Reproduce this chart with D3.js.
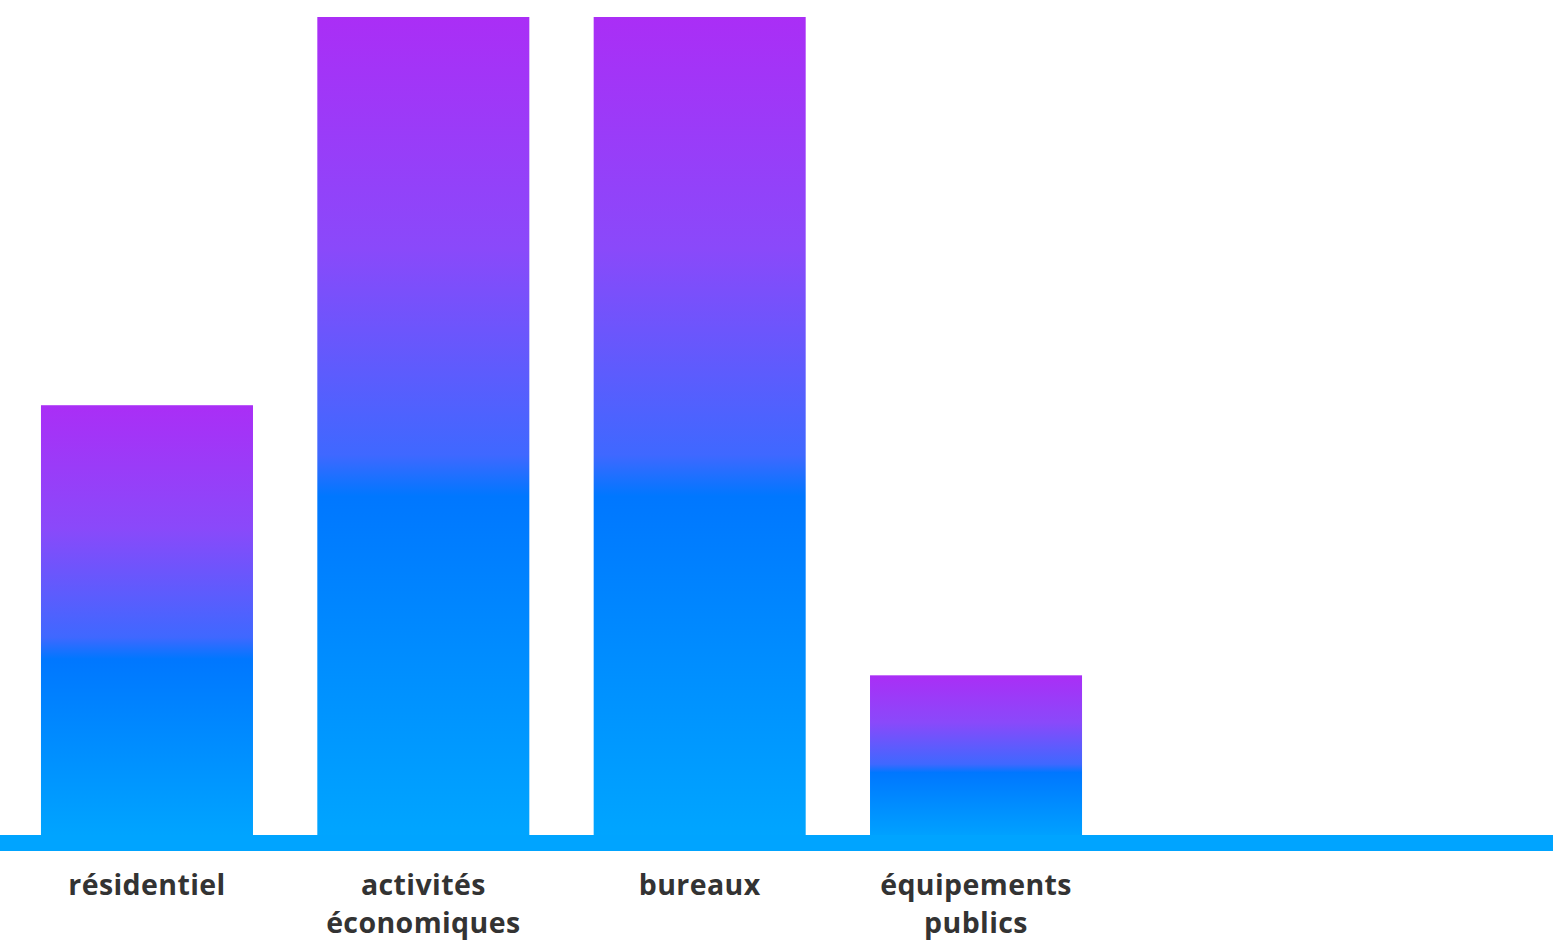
<!DOCTYPE html>
<html>
<head>
<meta charset="utf-8">
<script src="https://cdn.jsdelivr.net/npm/d3@7/dist/d3.min.js"></script>
<style>
  html, body { margin: 0; padding: 0; background: #fff; }
  svg { display: block; }
</style>
</head>
<body>
<div id="chart"></div>
<script>
// data
const categories = ['résidentiel', 'activités économiques', 'bureaux', 'équipements publics'];
const labelLines = [['résidentiel'], ['activités', 'économiques'], ['bureaux'], ['équipements', 'publics']];
const values = [53, 100, 100, 20.3];

const width = 1553,
  height = 941;

const svg = d3.select('#chart')
  .append('svg')
  .attr('width', width)
  .attr('height', height);

// gradient purple -> blue -> light blue, per bar
const defs = svg.append('defs');
const grad = defs.append('linearGradient')
  .attr('id', 'barGrad')
  .attr('x1', 0).attr('y1', 0)
  .attr('x2', 0).attr('y2', 1);
grad.append('stop').attr('offset', '0%').attr('stop-color', '#aa2ef6');
grad.append('stop').attr('offset', '28%').attr('stop-color', '#8a49fa');
grad.append('stop').attr('offset', '53%').attr('stop-color', '#3f68ff');
grad.append('stop').attr('offset', '58%').attr('stop-color', '#0077ff');
grad.append('stop').attr('offset', '100%').attr('stop-color', '#00a6ff');

const x = d3.scaleBand()
  .domain(categories)
  .range([8.8, 1114.2])
  .paddingInner(0.2328)
  .paddingOuter(0.1164);

const y = d3.scaleLinear()
  .domain([0, 100])
  .range([843, 17]);

svg.append('g')
  .selectAll('rect')
  .data(values)
  .enter()
  .append('rect')
  .attr('x', (d, i) => x(categories[i]))
  .attr('y', d => y(d))
  .attr('width', x.bandwidth())
  .attr('height', d => y(0) - y(d))
  .attr('fill', 'url(#barGrad)');

// thick baseline
svg.append('line')
  .attr('x1', 0)
  .attr('x2', width)
  .attr('y1', y(0))
  .attr('y2', y(0))
  .attr('stroke', '#00a4ff')
  .attr('stroke-width', 16);

// category labels
const labels = svg.append('g')
  .selectAll('text')
  .data(categories)
  .enter()
  .append('text')
  .attr('x', d => x(d) + x.bandwidth() / 2)
  .attr('y', 895)
  .attr('text-anchor', 'middle')
  .attr('font-family', '"Open Sans", Lato, sans-serif')
  .attr('font-weight', 700)
  .attr('font-size', 28.5)
  .attr('letter-spacing', 0.4)
  .attr('fill', '#333');

labels.each(function (d, i) {
  const t = d3.select(this);
  labelLines[i].forEach((line, j) => {
    t.append('tspan')
      .attr('x', x(d) + x.bandwidth() / 2)
      .attr('dy', j === 0 ? 0 : 38)
      .text(line);
  });
});
</script>
</body>
</html>
